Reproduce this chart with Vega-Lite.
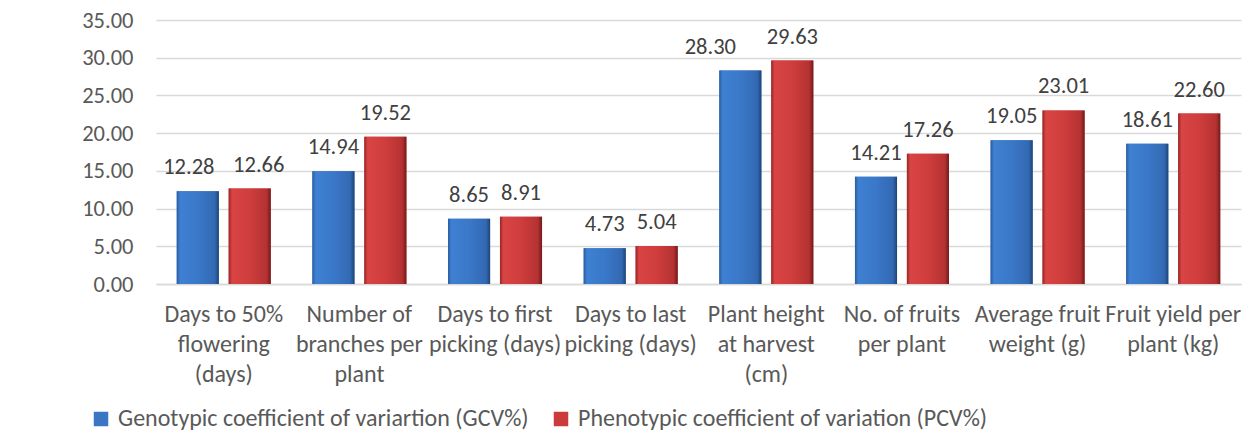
{
  "$schema": "https://vega.github.io/schema/vega-lite/v6.json",
  "autosize": {"type": "none"},
  "width": 1085,
  "height": 264,
  "padding": {"left": 156, "top": 20, "right": 3, "bottom": 153},
  "background": "white",
  "config": {
    "font": "Carlito, Lato, sans-serif",
    "view": {"stroke": null},
    "axis": {"labelFont": "Carlito, Lato, sans-serif", "labelColor": "#595959", "labelFontSize": 22.5}
  },
  "data": {
    "values": [
      {"trait": "Days to 50%|flowering|(days)", "series": "Genotypic coefficient of variartion (GCV%)", "value": 12.28},
      {"trait": "Days to 50%|flowering|(days)", "series": "Phenotypic coefficient of variation (PCV%)", "value": 12.66},
      {"trait": "Number of|branches per|plant", "series": "Genotypic coefficient of variartion (GCV%)", "value": 14.94},
      {"trait": "Number of|branches per|plant", "series": "Phenotypic coefficient of variation (PCV%)", "value": 19.52},
      {"trait": "Days to first|picking (days)", "series": "Genotypic coefficient of variartion (GCV%)", "value": 8.65},
      {"trait": "Days to first|picking (days)", "series": "Phenotypic coefficient of variation (PCV%)", "value": 8.91},
      {"trait": "Days to last|picking (days)", "series": "Genotypic coefficient of variartion (GCV%)", "value": 4.73},
      {"trait": "Days to last|picking (days)", "series": "Phenotypic coefficient of variation (PCV%)", "value": 5.04},
      {"trait": "Plant height|at harvest|(cm)", "series": "Genotypic coefficient of variartion (GCV%)", "value": 28.30},
      {"trait": "Plant height|at harvest|(cm)", "series": "Phenotypic coefficient of variation (PCV%)", "value": 29.63},
      {"trait": "No. of fruits|per plant", "series": "Genotypic coefficient of variartion (GCV%)", "value": 14.21},
      {"trait": "No. of fruits|per plant", "series": "Phenotypic coefficient of variation (PCV%)", "value": 17.26},
      {"trait": "Average fruit|weight (g)", "series": "Genotypic coefficient of variartion (GCV%)", "value": 19.05},
      {"trait": "Average fruit|weight (g)", "series": "Phenotypic coefficient of variation (PCV%)", "value": 23.01},
      {"trait": "Fruit yield per|plant (kg)", "series": "Genotypic coefficient of variartion (GCV%)", "value": 18.61},
      {"trait": "Fruit yield per|plant (kg)", "series": "Phenotypic coefficient of variation (PCV%)", "value": 22.60}
    ]
  },
  "encoding": {
    "x": {
      "field": "trait", "type": "nominal", "sort": null,
      "scale": {"paddingInner": 0.307, "paddingOuter": 0.153},
      "axis": {
        "title": null, "labelAngle": 0, "ticks": false, "domain": true,
        "domainColor": "#d9d9d9", "domainWidth": 1.5,
        "labelExpr": "split(datum.label, '|')", "labelLineHeight": 30,
        "labelFontSize": 24, "labelPadding": 18, "labelBaseline": "top", "labelColor": "#595959"
      }
    },
    "xOffset": {
      "field": "series", "type": "nominal",
      "scale": {"domain": ["Genotypic coefficient of variartion (GCV%)", "Phenotypic coefficient of variation (PCV%)"], "paddingInner": 0.19}
    },
    "y": {
      "field": "value", "type": "quantitative",
      "scale": {"domain": [0, 35], "nice": false},
      "axis": {
        "title": null, "values": [0, 5, 10, 15, 20, 25, 30, 35], "format": ".2f",
        "domain": false, "ticks": false, "labelPadding": 23,
        "gridColor": "#d9d9d9", "gridWidth": 1.5
      }
    }
  },
  "layer": [
    {
      "mark": {"type": "bar"},
      "encoding": {
        "color": {
          "field": "series", "type": "nominal",
          "scale": {"domain": ["Genotypic coefficient of variartion (GCV%)", "Phenotypic coefficient of variation (PCV%)"], "range": ["#3a76c4", "#cc3b3b"]},
          "legend": {
            "title": null, "orient": "none", "direction": "horizontal",
            "legendX": -67, "legendY": 387,
            "symbolType": "square", "symbolSize": 210, "symbolStrokeWidth": 0,
            "labelFontSize": 24, "labelColor": "#595959", "labelFont": "Carlito, Lato, sans-serif",
            "columnPadding": 20, "symbolOffset": 0, "labelOffset": 5, "labelLimit": 600
          }
        }
      }
    },
    {
      "transform": [{"filter": "datum.series === 'Genotypic coefficient of variartion (GCV%)'"}],
      "mark": {
        "type": "bar",
        "fill": {"gradient": "linear", "x1": 0, "y1": 0, "x2": 1, "y2": 0,
          "stops": [
            {"offset": 0, "color": "#2b5c9e"},
            {"offset": 0.08, "color": "#3f80d2"},
            {"offset": 0.5, "color": "#3a78c8"},
            {"offset": 0.9, "color": "#3369b3"},
            {"offset": 1, "color": "#1e4478"}
          ]}
      }
    },
    {
      "transform": [{"filter": "datum.series === 'Phenotypic coefficient of variation (PCV%)'"}],
      "mark": {
        "type": "bar",
        "fill": {"gradient": "linear", "x1": 0, "y1": 0, "x2": 1, "y2": 0,
          "stops": [
            {"offset": 0, "color": "#962626"},
            {"offset": 0.08, "color": "#d94444"},
            {"offset": 0.5, "color": "#cf3d3d"},
            {"offset": 0.9, "color": "#b53232"},
            {"offset": 1, "color": "#741a1a"}
          ]}
      }
    },
    {
      "transform": [{"filter": "datum.value !== 28.30 && datum.value !== 12.28 && datum.value !== 12.66"}],
      "mark": {"type": "text", "baseline": "alphabetic", "dy": -17, "fontSize": 22.5, "color": "#404040"},
      "encoding": {
        "text": {"field": "value", "type": "quantitative", "format": ".2f"}
      }
    },
    {
      "transform": [{"filter": "datum.value === 28.30"}],
      "mark": {"type": "text", "baseline": "alphabetic", "dy": -17, "dx": -30, "fontSize": 22.5, "color": "#404040"},
      "encoding": {
        "text": {"field": "value", "type": "quantitative", "format": ".2f"}
      }
    },
    {
      "transform": [{"filter": "datum.value === 12.28"}],
      "mark": {"type": "text", "baseline": "alphabetic", "dy": -17, "dx": -9, "fontSize": 22.5, "color": "#404040"},
      "encoding": {
        "text": {"field": "value", "type": "quantitative", "format": ".2f"}
      }
    },
    {
      "transform": [{"filter": "datum.value === 12.66"}],
      "mark": {"type": "text", "baseline": "alphabetic", "dy": -17, "dx": 9, "fontSize": 22.5, "color": "#404040"},
      "encoding": {
        "text": {"field": "value", "type": "quantitative", "format": ".2f"}
      }
    }
  ]
}
